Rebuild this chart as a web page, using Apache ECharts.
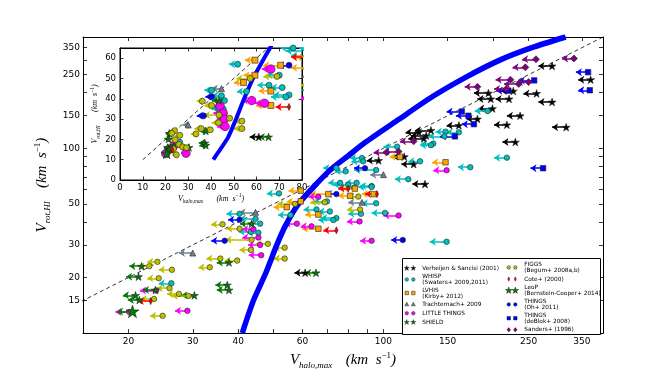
<!DOCTYPE html>
<html>
<head>
<meta charset="utf-8">
<script src="https://cdn.jsdelivr.net/npm/echarts@6/dist/echarts.min.js"></script>
<style>
  html, body { margin: 0; background: #fff; }
  #chart { width: 670px; height: 375px; }
</style>
</head>
<body>
<div id="chart"></div>
<script>
// every row: [marker Vhalo,max, arrow tip Vhalo,max, Vrot,HI]  (km/s)
const verheijen = [
  [61, 57, 21.2], [125, 115, 122], [131, 119, 117], [135, 122, 125], [129, 117, 113],
  [97, 90, 86], [114, 106, 90], [121, 112, 82], [130, 120, 64],
  [290, 266, 279], [370, 342, 235], [227, 210, 204], [194, 177, 199],
  [263, 242, 198], [197, 181, 185], [221, 203, 185], [290, 266, 178],
  [199, 182, 164], [237, 218, 150], [181, 169, 144], [218, 201, 134],
  [161, 149, 133], [317, 290, 130], [230, 212, 108]
];
const whisp = [
  [51.7, 47.9, 57], [40.3, 37.1, 44.2], [44.6, 40.3, 41.5], [45.9, 42.7, 39.1],
  [43.3, 40.1, 35.3], [45.4, 42.3, 34.9], [26.2, 24.2, 18.6],
  [65.5, 60.4, 46.7], [55.6, 51.4, 43.6], [71.3, 66.3, 45.5], [74.3, 67.5, 41.9], [72.9, 66.3, 40.9],
  [92.8, 86.3, 62.5], [95.5, 87.2, 50.4], [86.8, 80.1, 44.2], [76.1, 70.6, 65], [70, 64.4, 51.6],
  [95.5, 83, 76.3], [148, 139, 123], [137, 127, 106], [135, 126, 104], [109, 100, 102],
  [87.3, 81, 88.5], [88, 81.7, 85], [126, 117, 85], [117, 107.5, 68], [74.3, 68.4, 78.3],
  [78.8, 73.5, 75], [84.4, 78.6, 65], [80.1, 72.9, 63.5], [83.2, 75.2, 61.3], [92.8, 85.3, 61.8],
  [101, 92.8, 44.7], [193, 178, 159], [161, 149, 122], [147, 133, 116], [218, 201, 89],
  [173, 160, 79], [149, 134, 31.2]
];
const lvhis = [
  [59.3, 54.9, 59], [59.3, 54.3, 51.6], [54.3, 50, 48], [66.3, 59.8, 36.7],
  [70.6, 63, 56.5], [94, 87.2, 56.5], [81, 75.2, 55.3], [83.5, 77.2, 60.5],
  [111, 104, 90], [148, 136, 84], [66.3, 61, 43.8]
];
const trachternach = [[44.6, 40.3, 45], [30, 27.5, 27.1], [100, 92, 72], [87.3, 80.1, 51]];
const littleThings = [
  [20.1, 18.4, 13.0], [29, 26.8, 13.2], [23.8, 21.5, 17.0],
  [44, 41, 36.5], [45.4, 41, 32.9], [45.9, 42.5, 30], [46.2, 42.7, 26.4],
  [57.9, 53.6, 39.1], [63.5, 59.3, 37.8], [66.3, 62.3, 54.6], [92.8, 86.3, 31.6],
  [86, 79.4, 40.2], [149, 137, 76], [110, 100, 43.3]
];
const shield = [
  [21.7, 20.1, 23.0], [21.3, 19.7, 20.2], [23.7, 21.9, 17.1], [20.9, 19.3, 16.0],
  [21.4, 19.9, 15.1], [30.3, 27.9, 16.0], [37.3, 34.6, 18.2], [37.7, 34.9, 17.1],
  [37.7, 34.9, 24.1], [43.5, 40.4, 39.1], [65.3, 61, 21.2]
];
const figgs = [
  [36.2, 33.7, 38.8], [40.3, 37.1, 36.7], [43.5, 36.9, 32], [43.3, 40.3, 28.2],
  [53.6, 50, 29], [53.6, 50, 25.3], [35.7, 32.7, 25.3], [39.7, 36.7, 24.7],
  [33.4, 31.1, 22.7], [24, 22.5, 24.3], [22.8, 21.3, 23.0], [26.3, 24.2, 22],
  [24.2, 22.5, 19.8], [25.9, 23.9, 17.5], [27.5, 25.5, 16.3], [29.2, 26.3, 15.9],
  [23.5, 21.6, 15.3], [24.8, 22.9, 12.4], [48.2, 44.6, 30.4], [57.2, 51.2, 50],
  [86.3, 79.4, 46.7], [85.3, 80.1, 54.8], [69, 63, 51]
];
const cote = [[23, 21.2, 14.9], [74.3, 68.4, 36], [80.1, 75.2, 60.5], [96, 89, 56.5]];
const leoP = [[20.5, 18.6, 13.1]];
const thingsOh = [[40.3, 37.5, 41], [36.7, 33.7, 31.6], [74.3, 69.5, 56.5], [89, 83, 78], [113, 105, 31.9]];
const thingsDeBlok = [
  [364, 337, 258], [368, 342, 206], [259, 235, 233], [220, 204, 205], [164, 149, 158],
  [171, 158, 150], [177, 164, 135], [157, 143, 116], [274, 253, 78]
];
const sanders = [
  [333, 309, 306], [262, 240, 303], [245, 226, 274], [223, 203, 235], [235, 214, 223],
  [250, 232, 228], [181, 167, 215], [217, 201, 209], [121, 111, 109], [102, 94, 95], [110, 100, 96]
];

// model curve and the 1:1 line
const modelCurve = [
  [41, 10], [44, 15], [47.5, 21], [51, 30], [54, 38.5], [58.5, 50], [66.4, 66], [72.1, 77.5],
  [80, 91], [89.4, 108], [110, 143], [136, 190], [168, 242], [207, 298], [255, 350], [316, 400]
];
const oneToOne = [[10, 10], [400, 400]];

// tick values
const mainXLabels = [20, 30, 40, 60, 100, 150, 250, 350];
const mainXTicks = [20, 30, 40, 50, 60, 70, 80, 90, 100, 150, 200, 250, 300, 350];
const mainYLabels = [15, 20, 30, 50, 100, 150, 250, 350];
const mainYTicks = [15, 20, 30, 40, 50, 60, 70, 80, 90, 100, 150, 200, 250, 300, 350];
const insetXLabels = [0, 10, 20, 30, 40, 50, 60, 70, 80];
const insetYLabels = [0, 10, 20, 30, 40, 50, 60];

// ---- marker shapes ----
const STAR = 'path://M0,-1L0.2245,-0.309L0.951,-0.309L0.363,0.118L0.588,0.809L0,0.382L-0.588,0.809L-0.363,0.118L-0.951,-0.309L-0.2245,-0.309Z';

function starD(cx, cy, R) {
  let s = '';
  for (let i = 0; i < 10; i++) {
    const a = (-90 + i * 36) * Math.PI / 180;
    const r = i % 2 ? R * 0.382 : R;
    s += (i ? 'L' : 'M') + (cx + r * Math.cos(a)).toFixed(2) + ',' + (cy + r * Math.sin(a)).toFixed(2);
  }
  return s + 'Z';
}
function circD(cx, cy, r) {
  return 'M' + (cx - r) + ',' + cy + 'a' + r + ',' + r + ' 0 1,0 ' + (2 * r) + ',0a' + r + ',' + r + ' 0 1,0 ' + (-2 * r) + ',0Z';
}
function rectD(cx, cy, h) {
  return 'M' + (cx - h) + ',' + (cy - h) + 'L' + (cx + h) + ',' + (cy - h) + 'L' + (cx + h) + ',' + (cy + h) + 'L' + (cx - h) + ',' + (cy + h) + 'Z';
}
function triD(cx, cy, h) {
  return 'M' + cx + ',' + (cy - h) + 'L' + (cx + h) + ',' + (cy + h * 0.8) + 'L' + (cx - h) + ',' + (cy + h * 0.8) + 'Z';
}
function diaD(cx, cy, w, h) {
  return 'M' + cx + ',' + (cy - h) + 'L' + (cx + w) + ',' + cy + 'L' + cx + ',' + (cy + h) + 'L' + (cx - w) + ',' + cy + 'Z';
}
// two markers side by side, like matplotlib's numpoints=2 legend
function pair(fn, a, b, c) {
  return 'path://M0,0M32,16' + fn(8, 8, a, b, c) + fn(23, 8, a, b, c);
}

const surveys = [
  { name: 'Verheijen & Sancisi (2001)', rows: verheijen, color: '#000000', symbol: STAR, size: 8, inset: 8, icon: pair(starD, 6) },
  { name: 'WHISP\n(Swaters+ 2009,2011)', rows: whisp, color: '#00bfbf', symbol: 'circle', size: 5.5, inset: 6, icon: pair(circD, 4) },
  { name: 'LVHIS\n(Kirby+ 2012)', rows: lvhis, color: '#ffa500', symbol: 'rect', size: 5.5, inset: 6, icon: pair(rectD, 4) },
  { name: 'Trachternach+ 2009', rows: trachternach, color: '#708090', symbol: 'triangle', size: 6, inset: 6, icon: pair(triD, 4.5) },
  { name: 'LITTLE THINGS', rows: littleThings, color: '#ff00ff', symbol: 'circle', size: 5.5, inset: 8.5, icon: pair(circD, 4) },
  { name: 'SHIELD', rows: shield, color: '#007a00', symbol: STAR, size: 8, inset: 8, icon: pair(starD, 6) },
  { name: 'FIGGS\n(Begum+ 2008a,b)', rows: figgs, color: '#bfbf00', symbol: 'circle', size: 5.5, inset: 6, icon: pair(circD, 4) },
  { name: 'Cote+ (2000)', rows: cote, color: '#ff0000', symbol: 'path://M0,-1L0.45,0L0,1L-0.45,0Z', size: 7, inset: 7, icon: pair(diaD, 2.2, 5) },
  { name: 'LeoP\n(Bernstein-Cooper+ 2014)', rows: leoP, color: '#007a00', symbol: STAR, size: 13, inset: 11, icon: pair(starD, 8) },
  { name: 'THINGS\n(Oh+ 2011)', rows: thingsOh, color: '#0000ff', symbol: 'circle', size: 5.5, inset: 6, icon: pair(circD, 4) },
  { name: 'THINGS\n(deBlok+ 2008)', rows: thingsDeBlok, color: '#0000ff', symbol: 'rect', size: 5.5, inset: 6, icon: pair(rectD, 4) },
  { name: 'Sanders+ (1996)', rows: sanders, color: '#800080', symbol: 'diamond', size: 7, inset: 7, icon: pair(diaD, 4, 5) }
];

const series = [];
[[0, 'size'], [2, 'inset']].forEach(([ax, sizeKey]) => {
  surveys.forEach(s => {
    series.push({
      type: 'lines', name: '_arrow', coordinateSystem: 'cartesian2d',
      xAxisIndex: ax, yAxisIndex: ax, z: 2, silent: true, clip: true,
      symbol: ['none', 'arrow'], symbolSize: 6,
      lineStyle: { color: s.color, width: 1.6, opacity: 1, curveness: 0 },
      data: s.rows.map(r => ({ coords: [[r[0], r[2]], [r[1], r[2]]] }))
    });
  });
  surveys.forEach(s => {
    series.push({
      type: 'scatter', name: s.name, xAxisIndex: ax, yAxisIndex: ax, z: 3,
      symbol: s.symbol, symbolSize: s[sizeKey], symbolKeepAspect: true,
      itemStyle: { color: s.color, borderColor: '#222', borderWidth: 0.6, opacity: 1 },
      data: s.rows.map(r => [r[0], r[2]])
    });
  });
  series.push({
    type: 'line', name: '_model', xAxisIndex: ax, yAxisIndex: ax, z: 2, data: modelCurve,
    showSymbol: false, smooth: 0.25, silent: true,
    lineStyle: { color: '#0000ff', width: ax === 0 ? 5.5 : 4 }
  });
  series.push({
    type: 'line', name: '_unity', xAxisIndex: ax, yAxisIndex: ax, z: 1, data: oneToOne,
    showSymbol: false, silent: true,
    lineStyle: { color: '#000', width: 0.8, type: [4, 3] }
  });
});

const FONT = 'DejaVu Sans';
const serif = 'Liberation Serif';
function richName(big, small) {
  return {
    v: { fontFamily: serif, fontStyle: 'italic', fontSize: big, color: '#000', lineHeight: big + 4 },
    s: { fontFamily: serif, fontStyle: 'italic', fontSize: small, color: '#000', verticalAlign: 'bottom', lineHeight: small + 1 },
    p: { fontFamily: serif, fontSize: small, color: '#000', verticalAlign: 'top', lineHeight: small + 1 }
  };
}
const xName = '{v|V}{s|halo,max}    {v|(km  s}{p|−1}{v|)}';
const yName = '{v|V}{s|rot,HI}    {v|(km  s}{p|−1}{v|)}';

function mainAxis(dir, pos, labels, ticks, showName) {
  const isX = dir === 'x';
  return {
    type: 'log', logBase: 10, gridIndex: 0, position: pos,
    min: isX ? 15 : 10, max: 400,
    axisLine: { show: true, onZero: false, lineStyle: { color: '#000', width: 1 } },
    axisTick: { show: true, inside: true, length: 4, customValues: ticks, lineStyle: { color: '#000', width: 0.8 } },
    axisLabel: {
      show: showName, customValues: labels, margin: isX ? 4 : 3, fontSize: 9, color: '#000', fontFamily: FONT,
      formatter: v => String(Math.round(v))
    },
    splitLine: { show: false },
    name: showName ? (isX ? xName : yName) : '',
    nameLocation: 'middle', nameGap: isX ? 7 : 14, nameRotate: isX ? 0 : 90,
    nameTextStyle: { rich: richName(15, 9) }
  };
}
function insetAxis(dir, pos, labels, showName) {
  const isX = dir === 'x';
  return {
    type: 'value', gridIndex: 1, position: pos, min: 0, max: isX ? 80 : 65,
    axisLine: { show: true, onZero: false, lineStyle: { color: '#000', width: 1 } },
    axisTick: { show: true, inside: true, length: 3.5, customValues: labels, lineStyle: { color: '#000', width: 0.8 } },
    axisLabel: { show: showName, customValues: labels, margin: isX ? 3 : 4, fontSize: 8.5, color: '#000', fontFamily: FONT },
    splitLine: { show: false },
    name: showName ? (isX ? xName : yName) : '',
    nameLocation: 'middle', nameGap: isX ? 9 : 12, nameRotate: isX ? 0 : 90,
    nameTextStyle: { rich: richName(8, 5.5) }
  };
}

const legendText = { fontSize: 5.8, lineHeight: 6, fontFamily: FONT, color: '#000' };
const legendItem = s => ({
  name: s.name, icon: s.icon,
  itemStyle: { color: s.color, borderColor: '#222', borderWidth: 0.5 }
});
const col1 = surveys.slice(0, 6), col2 = surveys.slice(6);

const chart = echarts.init(document.getElementById('chart'), null, { renderer: 'canvas' });
chart.setOption({
  animation: false,
  backgroundColor: '#fff',
  grid: [
    { left: 83, top: 37, width: 520, height: 300 },
    { left: 120, top: 48, width: 182, height: 132, show: true, backgroundColor: '#fff', borderColor: '#000', borderWidth: 1 }
  ],
  xAxis: [
    mainAxis('x', 'bottom', mainXLabels, mainXTicks, true),
    mainAxis('x', 'top', mainXLabels, mainXTicks, false),
    insetAxis('x', 'bottom', insetXLabels, true),
    insetAxis('x', 'top', insetXLabels, false)
  ],
  yAxis: [
    mainAxis('y', 'left', mainYLabels, mainYTicks, true),
    mainAxis('y', 'right', mainYLabels, mainYTicks, false),
    insetAxis('y', 'left', insetYLabels, true),
    insetAxis('y', 'right', insetYLabels, false)
  ].map((a, i) => Object.assign(a, { gridIndex: i < 2 ? 0 : 1 })),
  legend: [
    {
      left: 403, top: 264.5, orient: 'vertical', padding: 0, itemGap: 1.5, itemWidth: 14, itemHeight: 7,
      selectedMode: false, textStyle: legendText, z: 10,
      data: col1.map(legendItem)
    },
    {
      left: 505, top: 261.5, orient: 'vertical', padding: 0, itemGap: 1.8, itemWidth: 14, itemHeight: 7,
      selectedMode: false, textStyle: legendText, z: 10,
      data: col2.map(legendItem)
    }
  ],
  graphic: [
    {
      type: 'rect', z: 9, shape: { x: 402.5, y: 258.5, width: 198, height: 76 },
      style: { fill: '#fff', stroke: '#000', lineWidth: 1 }
    }
  ],
  series: series
});
</script>
</body>
</html>
